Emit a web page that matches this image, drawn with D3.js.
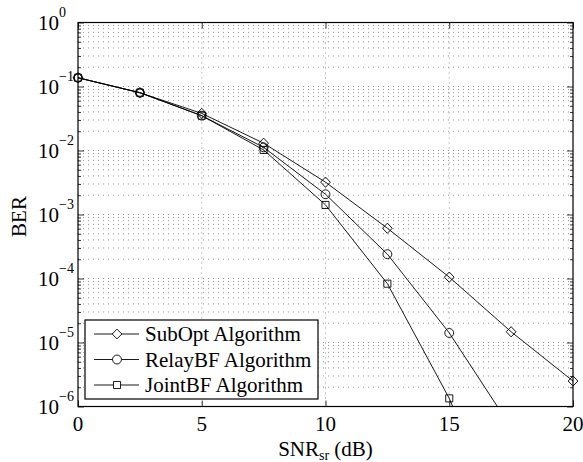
<!DOCTYPE html>
<html>
<head>
<meta charset="utf-8">
<script src="https://cdn.jsdelivr.net/npm/d3@7"></script>
<style>
  body { margin: 0; background: #fff; }
</style>
</head>
<body>
<div id="container"></div>
<script>
// SNR values (dB)
var snr = [0, 2.5, 5, 7.5, 10, 12.5, 15, 17.5, 20];
var subOpt = [0.137, 0.080, 0.038, 0.0130, 0.0032, 6.1e-4, 1.05e-4, 1.47e-5, 2.5e-6];
var relayBF = [0.137, 0.080, 0.035, 0.0112, 0.00207, 2.4e-4, 1.41e-5, 4.7e-7];
var jointBF = [0.137, 0.080, 0.035, 0.0102, 0.00141, 8.3e-5, 1.34e-6, 7e-9];
var seriesNames = ["SubOpt Algorithm", "RelayBF Algorithm", "JointBF Algorithm"];
var seriesMarkers = ["diamond", "circle", "square"];
var xTicks = [0, 5, 10, 15, 20];
var yDecades = [0, -1, -2, -3, -4, -5, -6];

var W = 583, H = 462;
var m = { left: 78, right: 573, top: 22.5, bottom: 406.5 };
var FONT = "'Liberation Serif', 'Times New Roman', Times, serif";

var svg = d3.select("#container")
  .append("svg")
  .attr("width", W)
  .attr("height", H)
  .attr("viewBox", "0 0 " + W + " " + H)
  .attr("font-family", FONT);

var x = d3.scaleLinear().domain([0, 20]).range([m.left, m.right]);
var y = d3.scaleLog().domain([1e-6, 1]).range([m.bottom, m.top]);

svg.append("defs").append("clipPath").attr("id", "plotclip")
  .append("rect")
  .attr("x", m.left).attr("y", m.top)
  .attr("width", m.right - m.left).attr("height", m.bottom - m.top);

// grid : every decade plus the minor 2..9 values, all dotted
var gridVals = [];
yDecades.forEach(function(d) {
  if (d < 0) {
    for (var k = 1; k <= 9; k++) gridVals.push(k * Math.pow(10, d));
  } else gridVals.push(1);
});
var grid = svg.append("g").attr("class", "grid");
grid.selectAll("line.h")
  .data(gridVals.filter(function(v) { return v > 1e-6 && v < 1; }))
  .enter().append("line")
  .attr("class", "h")
  .attr("x1", m.left).attr("x2", m.right)
  .attr("y1", function(d) { return y(d); })
  .attr("y2", function(d) { return y(d); })
  .attr("stroke", "#777").attr("stroke-width", 0.8)
  .attr("stroke-dasharray", "1,4");
grid.selectAll("line.v")
  .data(xTicks.filter(function(d) { return d > 0 && d < 20; }))
  .enter().append("line")
  .attr("class", "v")
  .attr("y1", m.top).attr("y2", m.bottom)
  .attr("x1", function(d) { return x(d); })
  .attr("x2", function(d) { return x(d); })
  .attr("stroke", "#777").attr("stroke-width", 0.8)
  .attr("stroke-dasharray", "1,4");

// axes (ticks inward, on all four sides like matlab)
var minorVals = gridVals.filter(function(v) { return v > 1e-6 && v < 1 && Math.abs(Math.log10(v) - Math.round(Math.log10(v))) > 1e-6; });
var majorVals = yDecades.map(function(d) { return Math.pow(10, d); });

svg.append("g")
  .attr("transform", "translate(" + m.left + ",0)")
  .call(d3.axisRight(y).tickValues(minorVals).tickSize(3).tickFormat(""))
  .call(function(g) { g.select(".domain").remove(); });
svg.append("g")
  .attr("transform", "translate(" + m.right + ",0)")
  .call(d3.axisLeft(y).tickValues(minorVals).tickSize(3).tickFormat(""))
  .call(function(g) { g.select(".domain").remove(); });
svg.append("g")
  .attr("transform", "translate(" + m.left + ",0)")
  .call(d3.axisRight(y).tickValues(majorVals).tickSize(6).tickFormat(""))
  .call(function(g) { g.select(".domain").remove(); });
svg.append("g")
  .attr("transform", "translate(" + m.right + ",0)")
  .call(d3.axisLeft(y).tickValues(majorVals).tickSize(6).tickFormat(""))
  .call(function(g) { g.select(".domain").remove(); });
svg.append("g")
  .attr("transform", "translate(0," + m.bottom + ")")
  .call(d3.axisTop(x).tickValues(xTicks).tickSize(6).tickFormat(""))
  .call(function(g) { g.select(".domain").remove(); });
svg.append("g")
  .attr("transform", "translate(0," + m.top + ")")
  .call(d3.axisBottom(x).tickValues(xTicks).tickSize(6).tickFormat(""))
  .call(function(g) { g.select(".domain").remove(); });
svg.selectAll(".tick line").attr("stroke", "#000").attr("stroke-width", 0.8);

// y labels 10^n
var yl = svg.append("g").selectAll("text")
  .data(yDecades).enter().append("text")
  .attr("x", 38)
  .attr("y", function(d) { return y(Math.pow(10, d)) + 7.5; })
  .attr("font-family", FONT)
  .attr("font-size", 21);
yl.append("tspan").text("10");
yl.append("tspan")
  .attr("font-size", 14)
  .attr("dy", -13)
  .text(function(d) { return d === 0 ? "0" : "\u2212" + (-d); });

// x labels
svg.append("g").selectAll("text")
  .data(xTicks).enter().append("text")
  .attr("x", function(d) { return x(d); })
  .attr("y", 431)
  .attr("text-anchor", "middle")
  .attr("font-family", FONT)
  .attr("font-size", 21)
  .text(function(d) { return d; });

// axis titles
var xt = svg.append("text")
  .attr("x", (m.left + m.right) / 2)
  .attr("y", 456)
  .attr("text-anchor", "middle")
  .attr("font-family", FONT)
  .attr("font-size", 21);
xt.append("tspan").text("SNR");
xt.append("tspan").attr("font-size", 14).attr("dy", 4).text("sr");
xt.append("tspan").attr("dy", -4).text(" (dB)");

svg.append("text")
  .attr("transform", "translate(26," + ((m.top + m.bottom) / 2 + 2) + ") rotate(-90)")
  .attr("text-anchor", "middle")
  .attr("font-family", FONT)
  .attr("font-size", 21)
  .text("BER");

// data lines
function markerPath(type) {
  if (type === "diamond") return d3.symbol().type(d3.symbolDiamond2).size(60)();
  if (type === "circle") return d3.symbol().type(d3.symbolCircle).size(62)();
  return d3.symbol().type(d3.symbolSquare).size(50)();
}

var line = d3.line()
  .x(function(d) { return x(d[0]); })
  .y(function(d) { return y(d[1]); });

var allSeries = [subOpt, relayBF, jointBF];
var plot = svg.append("g").attr("clip-path", "url(#plotclip)");

allSeries.forEach(function(vals, i) {
  var pts = vals.map(function(v, j) { return [snr[j], v]; });
  plot.append("path")
    .datum(pts)
    .attr("d", line)
    .attr("fill", "none")
    .attr("stroke", "#000")
    .attr("stroke-width", 0.9);
});

// markers only for points inside the y range
allSeries.forEach(function(vals, i) {
  var pts = vals.map(function(v, j) { return [snr[j], v]; })
    .filter(function(p) { return p[1] >= 1e-6; });
  svg.append("g").selectAll("path")
    .data(pts).enter().append("path")
    .attr("transform", function(d) { return "translate(" + x(d[0]) + "," + y(d[1]) + ")" + (seriesMarkers[i] === "diamond" ? " scale(1,1.05)" : ""); })
    .attr("d", markerPath(seriesMarkers[i]))
    .attr("fill", "none")
    .attr("stroke", "#000")
    .attr("stroke-width", 0.9);
});

// box
svg.append("rect")
  .attr("x", m.left).attr("y", m.top)
  .attr("width", m.right - m.left).attr("height", m.bottom - m.top)
  .attr("fill", "none").attr("stroke", "#000").attr("stroke-width", 1.2);

// legend
var leg = svg.append("g");
leg.append("rect")
  .attr("x", 85).attr("y", 320)
  .attr("width", 233).attr("height", 79)
  .attr("fill", "#fff").attr("stroke", "#000").attr("stroke-width", 1.2);
seriesNames.forEach(function(name, i) {
  var ly = 334 + i * 25.5;
  leg.append("line")
    .attr("x1", 94).attr("x2", 139)
    .attr("y1", ly).attr("y2", ly)
    .attr("stroke", "#000").attr("stroke-width", 0.9);
  leg.append("path")
    .attr("transform", "translate(117," + ly + ")")
    .attr("d", markerPath(seriesMarkers[i]))
    .attr("fill", "#fff")
    .attr("stroke", "#000")
    .attr("stroke-width", 0.9);
  leg.append("text")
    .attr("x", 145).attr("y", ly + 7)
    .attr("font-family", FONT)
    .attr("font-size", 21)
    .text(name);
});
</script>
</body>
</html>
